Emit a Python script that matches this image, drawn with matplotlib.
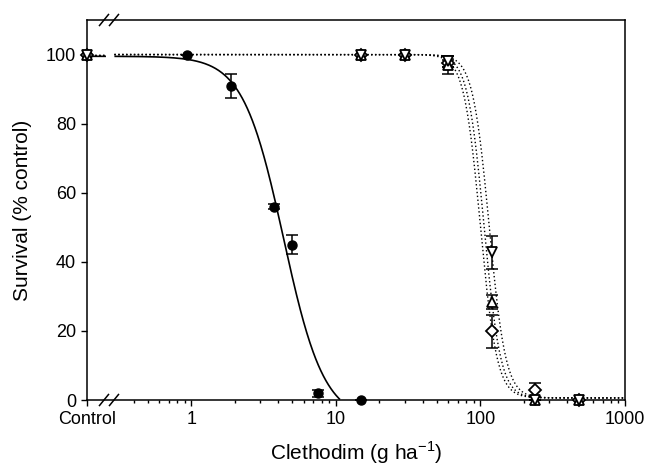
import numpy as np
import matplotlib
matplotlib.use("Agg")
import matplotlib.pyplot as plt
from matplotlib.lines import Line2D

plt.rcParams['font.family'] = ['Liberation Sans', 'DejaVu Sans']

# ---------------- data ----------------
CONTROL_X = 0.19           # position where "Control" is plotted on the log axis
GAP_LO, GAP_HI = 0.257, 0.294  # axis break region

# filled circles (solid fit)
circ_x = [CONTROL_X, 0.9375, 1.875, 3.75, 5.0, 7.5, 15.0]
circ_y = [100, 100, 91, 56, 45, 2, 0]
circ_e = [0, 0, 3.5, 0.7, 2.8, 1.0, 0]

dose_open = [CONTROL_X, 15, 30, 60, 120, 240, 480]
# open inverted triangles
itri_y = [100, 100, 100, 98, 42.7, 0, 0]
itri_e = [0, 0, 0, 1.5, 4.7, 0, 0]
# open triangles
tri_y = [100, 100, 100, 97, 28.3, 0, 0]
tri_e = [0, 0, 0, 2.5, 2.0, 0, 0]
# open diamonds
dia_y = [100, 100, 100, 97.5, 19.9, 2.9, 0]
dia_e = [0, 0, 0, 1.0, 4.8, 1.9, 0]

# fitted log-logistic parameters  (c, d, e, b)
fit_circ = (-6.0, 99.5, 4.35, 3.1)
fit_itri = (0.6, 100.0, 115.0, 7.6)
fit_tri = (0.6, 100.0, 106.0, 7.6)
fit_dia = (0.6, 100.0, 100.0, 7.6)

xticks = [CONTROL_X, 1, 10, 100, 1000]
xticklabels = ['Control', '1', '10', '100', '1000']
yticks = [0, 20, 40, 60, 80, 100]


def ll(x, p):
    c, d, e, b = p
    return c + (d - c) / (1 + (x / e) ** b)


# ---------------- figure ----------------
fig = plt.figure(figsize=(6.47, 4.65), dpi=100)
ax = fig.add_axes([87 / 647, 65 / 465, 538 / 647, 380 / 465])
ax.set_xscale('log')
ax.set_xlim(CONTROL_X, 1000)
ax.set_ylim(0, 110)

seg1 = np.logspace(np.log10(CONTROL_X), np.log10(GAP_LO), 20)
seg2 = np.logspace(np.log10(GAP_HI), 3, 800)

for seg in (seg1, seg2):
    yy = ll(seg, fit_circ)
    m = yy >= 0
    ax.plot(seg[m], yy[m], color='black', lw=1.2, solid_capstyle='butt')
    for p in (fit_itri, fit_tri, fit_dia):
        ax.plot(seg, ll(seg, p), color='black', lw=1.0, ls=(0, (1, 1.8)))

ebkw = dict(fmt='none', ecolor='black', elinewidth=1.1, capsize=4, capthick=1.1,
            clip_on=False, zorder=3)
ax.errorbar(circ_x, circ_y, yerr=circ_e, **ebkw)
ax.errorbar(dose_open, dia_y, yerr=dia_e, **ebkw)
ax.errorbar(dose_open, tri_y, yerr=tri_e, **ebkw)
ax.errorbar(dose_open, itri_y, yerr=itri_e, **ebkw)

ax.plot(circ_x, circ_y, 'o', ms=6.5, mfc='black', mec='black', ls='none',
        clip_on=False, zorder=4)
mkw = dict(ls='none', mfc='white', mec='black', mew=1.3, clip_on=False, zorder=5)
ax.plot(dose_open, dia_y, 'D', ms=5.8, **mkw)
ax.plot(dose_open, tri_y, '^', ms=7, **mkw)
ax.plot(dose_open, itri_y, 'v', ms=7, **mkw)

# ticks
ax.set_xticks(xticks)
ax.set_xticklabels(xticklabels)
minor = [v * 10 ** k for k in (-1, 0, 1, 2) for v in range(2, 10)]
minor = [m for m in minor if 0.35 < m < 1000]
ax.set_xticks(minor, minor=True)
ax.set_yticks(yticks)
ax.tick_params(axis='both', which='major', direction='out', length=4, width=1,
               labelsize=13, pad=4)
ax.tick_params(axis='x', which='minor', direction='out', length=2.5, width=1)
ax.tick_params(top=False, right=False, which='both')
for s in ax.spines.values():
    s.set_linewidth(1.1)

# axis break marks
for yb in (0.0, 1.0):
    for xc in (104 - 87, 114 - 87):
        xf = xc / 538
        dx, dy = 4.5 / 538, 5.5 / 380
        ax.add_line(Line2D([xf - dx, xf + dx], [yb - dy, yb + dy],
                           transform=ax.transAxes, color='black', lw=1.1,
                           clip_on=False))

ax.set_xlabel('Clethodim (g ha$^{\\mathregular{-1}}$)', fontsize=15, labelpad=8)
ax.set_ylabel('Survival (% control)', fontsize=15, labelpad=10)

fig.savefig('out.png', dpi=100)
